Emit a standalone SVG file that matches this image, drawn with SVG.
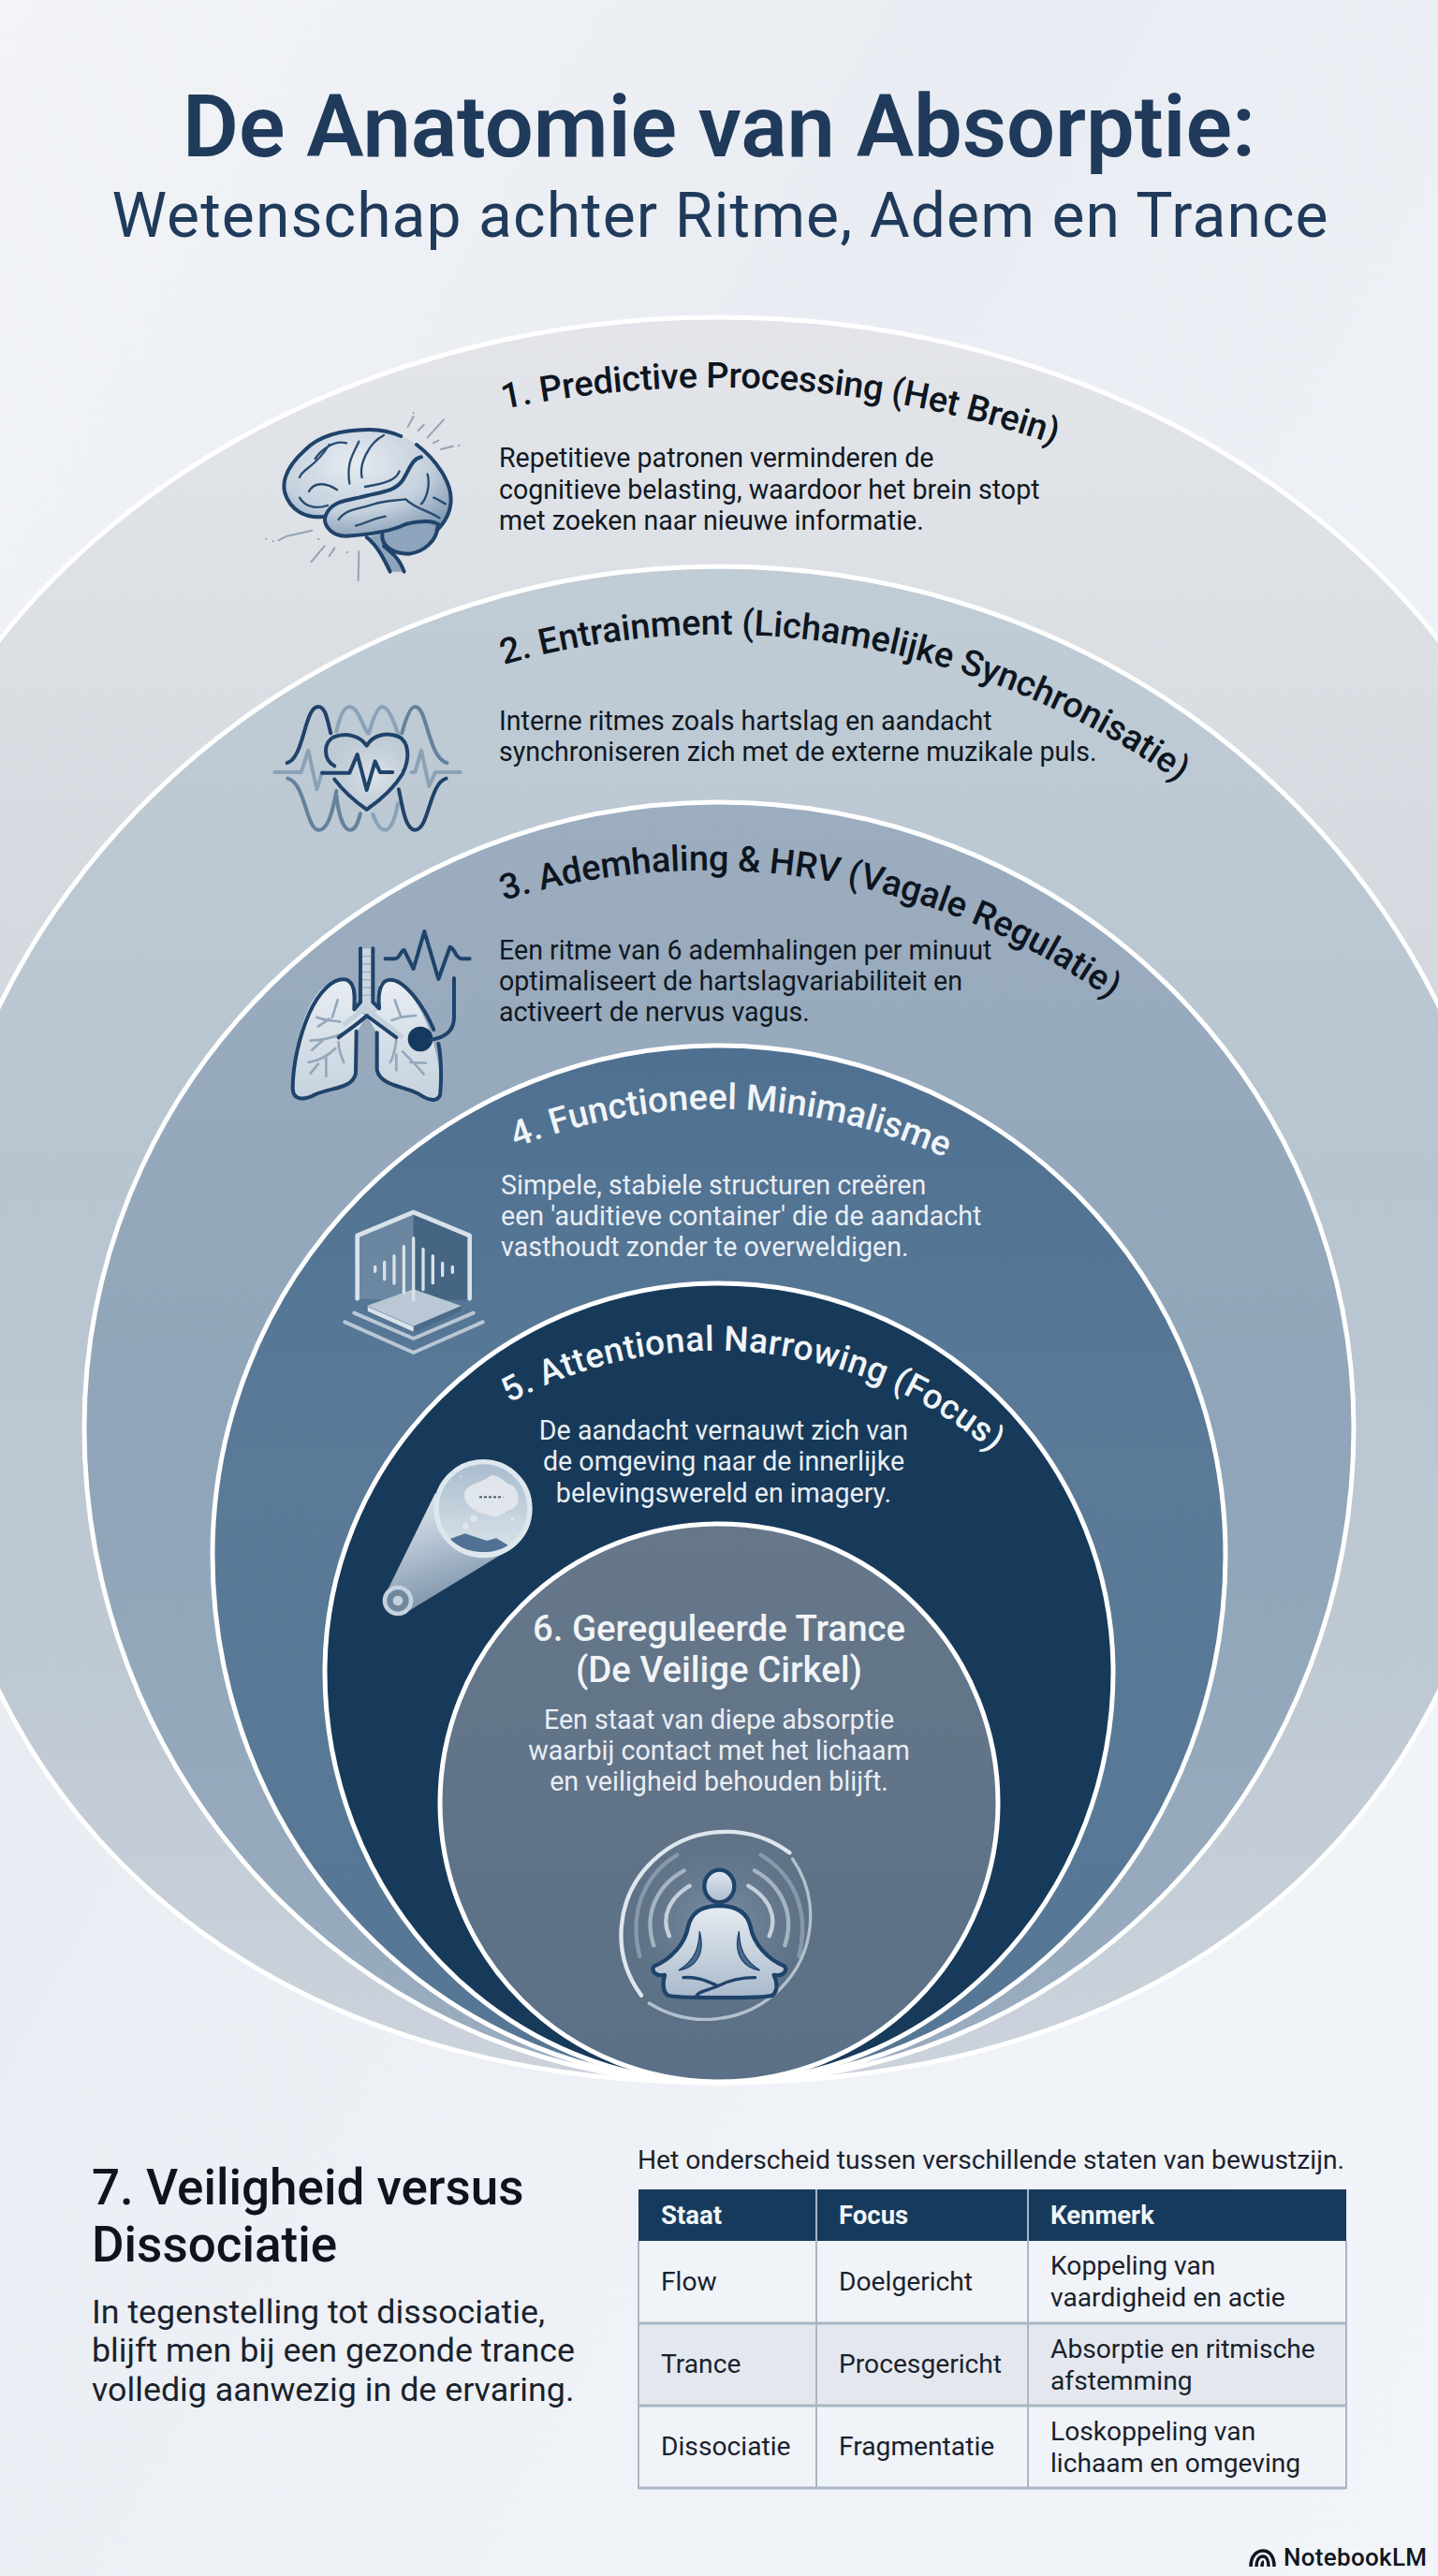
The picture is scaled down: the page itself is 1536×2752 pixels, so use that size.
<svg xmlns="http://www.w3.org/2000/svg" width="1536" height="2752" viewBox="0 0 1536 2752">
<style>
text{font-family:Roboto,"Liberation Sans",sans-serif}
.ring{stroke:#fff;stroke-width:5}
.h{font-size:38px;font-weight:500;fill:#0d1520}
.hw{font-size:38px;font-weight:500;fill:#f1f5f9}
.b{font-size:28.6px;fill:#101822}
.bw{font-size:28.6px;fill:#e9eef4}
.t{font-size:28.2px;fill:#1a222c}
.th{font-size:27.5px;font-weight:700;fill:#f2f5f8}
.ink{fill:none;stroke:#1f436a;stroke-width:12;stroke-linecap:round;stroke-linejoin:round}
.thin{fill:none;stroke:#284b70;stroke-width:7;stroke-linecap:round;stroke-linejoin:round}
.mid{fill:none;stroke:#64819e;stroke-width:12;stroke-linecap:round;stroke-linejoin:round}
.lite{fill:none;stroke:#8ba1b6;stroke-width:12;stroke-linecap:round;stroke-linejoin:round}
.spark{fill:none;stroke:#94a4b5;stroke-width:6;stroke-linecap:round}
.pale{fill:none;stroke:#d8e2eb;stroke-linecap:round;stroke-linejoin:round}
.br{fill:none;stroke:#94a8bc;stroke-width:8;stroke-linecap:round;stroke-linejoin:round}
</style>
<defs>
<linearGradient id="bg" x1="0" y1="0" x2="1" y2="1"><stop offset="0" stop-color="#f2f4f7"/><stop offset=".35" stop-color="#e9ecf2"/><stop offset=".7" stop-color="#eff2f7"/><stop offset="1" stop-color="#f1f4f9"/></linearGradient>
<linearGradient id="g1" gradientUnits="userSpaceOnUse" x1="0" y1="340" x2="0" y2="1200"><stop offset="0" stop-color="#e3e5ea"/><stop offset="1" stop-color="#d0d6dc"/></linearGradient>
<linearGradient id="g2" gradientUnits="userSpaceOnUse" x1="0" y1="605" x2="0" y2="2225"><stop offset="0" stop-color="#c0ccd6"/><stop offset=".4" stop-color="#b7c5d0"/><stop offset=".75" stop-color="#bfc9d4"/><stop offset="1" stop-color="#ccd3dc"/></linearGradient>
<linearGradient id="g3" gradientUnits="userSpaceOnUse" x1="0" y1="857" x2="0" y2="2225"><stop offset="0" stop-color="#9cadbf"/><stop offset=".5" stop-color="#90a5b9"/><stop offset="1" stop-color="#9aacbf"/></linearGradient>
<linearGradient id="g4" gradientUnits="userSpaceOnUse" x1="0" y1="1117" x2="0" y2="2225"><stop offset="0" stop-color="#4f7090"/><stop offset=".4" stop-color="#5a7a98"/><stop offset="1" stop-color="#557694"/></linearGradient>
<linearGradient id="g6" gradientUnits="userSpaceOnUse" x1="0" y1="1630" x2="0" y2="2225"><stop offset="0" stop-color="#66778a"/><stop offset="1" stop-color="#5b7086"/></linearGradient>
<radialGradient id="gb" cx=".42" cy=".32" r=".75"><stop offset="0" stop-color="#e6ebf1"/><stop offset=".6" stop-color="#c5d1de"/><stop offset="1" stop-color="#8097b2"/></radialGradient>
<radialGradient id="gh" cx=".6" cy=".55" r=".6"><stop offset="0" stop-color="#e2e8ee" stop-opacity=".9"/><stop offset="1" stop-color="#c0ccd6" stop-opacity=".15"/></radialGradient>
<linearGradient id="gl" x1="0" y1="0" x2="0" y2="1"><stop offset="0" stop-color="#e8edf2"/><stop offset="1" stop-color="#c6d2de"/></linearGradient>
<linearGradient id="gbeam" x1="0" y1="0" x2=".3" y2="1"><stop offset="0" stop-color="#e8edf2"/><stop offset=".6" stop-color="#aabacb"/><stop offset="1" stop-color="#7d93aa"/></linearGradient>
<linearGradient id="gsky" x1="0" y1="0" x2="0" y2="1"><stop offset="0" stop-color="#a9bccd"/><stop offset=".7" stop-color="#cdd8e2"/><stop offset="1" stop-color="#dde5ec"/></linearGradient>
<linearGradient id="gm" x1="0" y1="0" x2="0" y2="1"><stop offset="0" stop-color="#e6ebf1"/><stop offset="1" stop-color="#a9bacb"/></linearGradient>
<radialGradient id="gg"><stop offset="0" stop-color="#8196a9" stop-opacity=".9"/><stop offset="1" stop-color="#6c8196" stop-opacity="0"/></radialGradient>
<path id="p1" d="M538 437A1114 1114 0 0 1 1127 475"/>
<path id="p2" d="M538 710A842 842 0 0 1 1261 837"/>
<path id="p3" d="M538 962A744 744 0 0 1 1188 1069"/>
<path id="p4" d="M551 1226A588 588 0 0 1 1010 1237"/>
<path id="p5" d="M544 1499A458 458 0 0 1 1064 1555"/>
</defs>
<rect width="1536" height="2752" fill="url(#bg)"/>
<g id="title">
<text x="768" y="167" text-anchor="middle" font-size="92" font-weight="600" fill="#1f3a5a" textLength="1146">De Anatomie van Absorptie:</text>
<text x="769" y="253" text-anchor="middle" font-size="66" fill="#1f3a5a" textLength="1299">Wetenschap achter Ritme, Adem en Trance</text>
</g>
<g id="node-1">
<ellipse class="ring" cx="768" cy="1100" rx="918" ry="761" fill="url(#g1)"/>
<g transform="translate(270 420) scale(.3333)">
<path fill="url(#gb)" d="M232 395C170 405 120 375 103 320C90 270 125 220 170 180C210 140 280 118 370 117C430 115 500 140 545 180C590 215 635 285 635 340C635 385 610 420 590 440C560 445 480 440 420 450C350 458 300 462 270 455C240 440 228 420 232 395Z"/>
<path fill="#8ea3bc" d="M415 450C410 490 450 515 500 515C550 510 590 470 592 430C540 410 470 425 415 450Z"/>
<path fill="#8ea3bc" d="M365 462C400 490 420 530 440 572L485 572C470 530 445 510 420 490L415 450Z"/>
<path class="ink" d="M232 395C170 405 120 375 103 320C90 270 125 220 170 180C210 140 280 118 370 117C410 116 445 125 475 138M525 165C590 215 635 285 635 340C635 385 610 420 590 440"/>
<path class="ink" d="M415 450C410 490 450 515 500 515C550 510 590 470 592 430"/>
<path class="ink" d="M232 395C225 430 260 460 300 458C350 455 440 445 490 420C530 410 580 405 600 425"/>
<path class="ink" d="M365 462C400 490 420 530 440 572M485 572C470 530 445 510 420 490"/>
<path class="ink" d="M232 395C250 350 290 345 340 335C410 315 450 320 480 280C505 240 510 210 540 205"/>
<path class="thin" d="M275 405C300 370 340 372 390 355C420 345 450 345 490 340C520 370 570 380 598 400M330 425C360 420 370 405 425 395M150 270C160 240 200 240 245 165M300 160C260 150 220 180 200 210M340 155C320 200 300 220 310 290M180 315C200 280 240 290 270 310M470 250C460 280 420 290 360 300M350 270C340 230 370 160 420 135M560 260C570 300 555 340 540 355M580 335C595 340 605 350 618 355M150 335C170 370 210 370 240 360"/>
<path class="spark" d="M497 108L515 75M530 120L548 102M560 142L612 85M578 160L595 152M602 180L642 170M190 440L110 458M105 460L82 472M230 490L188 540M262 497L245 522M340 508L338 600"/>
<path class="spark" d="M515 63v1M660 168h1M65 475h1M42 467h1M210 468h1M302 510h1"/>
</g>
<text class="h"><textPath href="#p1" textLength="597">1. Predictive Processing (Het Brein)</textPath></text>
<text class="b"><tspan x="533" y="499">Repetitieve patronen verminderen de</tspan><tspan x="533" y="532.5">cognitieve belasting, waardoor het brein stopt</tspan><tspan x="533" y="566">met zoeken naar nieuwe informatie.</tspan></text>
</g>
<g id="node-2">
<path class="ring" fill="url(#g2)" d="M-83 1427A851 822 0 0 1 1619 1427C1619 1922 1278 2225 768 2225C258 2225 -83 1922 -83 1427Z"/>
<g transform="translate(270 730) scale(.3333)">
<path class="lite" d="M268 155C280 100 295 75 310 75C335 75 350 130 368 160M372 160C385 115 400 75 415 75C435 75 455 130 465 160"/>
<path class="mid" d="M478 160C490 115 505 75 520 75C560 75 560 235 622 255M268 360C275 420 290 470 312 470C335 470 340 430 345 418"/>
<path class="lite" d="M385 420C395 450 410 470 425 470C445 470 460 420 465 385"/>
<path class="ink" d="M110 255C165 240 165 75 210 75C235 75 240 125 250 160"/>
<path class="mid" d="M112 305C170 320 170 470 212 470C245 470 260 390 268 345"/>
<path class="ink" d="M468 340C480 400 490 470 520 470C565 470 565 320 620 305"/>
<path class="lite" d="M70 285H155L178 215L205 340L222 285M508 285H520L540 215L565 330L585 285H665"/>
<path class="ink" style="fill:url(#gh)" d="M262 265C225 245 225 190 260 172C300 155 345 170 365 200C385 165 430 155 470 172C500 190 505 240 480 290C450 340 400 380 365 405C330 380 290 345 262 308"/>
<path class="ink" d="M222 287H310L335 228L365 342L392 250L408 285H448"/>
</g>
<text class="h"><textPath href="#p2" textLength="757">2. Entrainment (Lichamelijke Synchronisatie)</textPath></text>
<text class="b"><tspan x="533" y="780">Interne ritmes zoals hartslag en aandacht</tspan><tspan x="533" y="813">synchroniseren zich met de externe muzikale puls.</tspan></text>
</g>
<g id="node-3">
<path class="ring" fill="url(#g3)" d="M90 1525A678 668 0 0 1 1446 1525A678 700 0 0 1 90 1525Z"/>
<g transform="translate(290 980) scale(.3333)">
<path fill="url(#gl)" d="M265 215C240 190 190 200 160 230C100 290 70 430 68 550C70 590 110 585 140 568C190 545 260 550 270 500L272 370L305 315L265 295Z"/>
<path fill="url(#gl)" d="M345 215C360 195 400 195 430 230C490 290 540 430 543 550C540 590 500 585 470 565C420 540 350 540 338 490L338 370L305 315L345 295Z"/>
<path fill="#c9d5e0" d="M285 100H325V280L345 295L305 310L265 295L285 280Z"/>
<path d="M287 125H323M287 150H323M287 175H323M287 200H323M287 225H323M287 250H323" stroke="#9fb0c1" stroke-width="4" fill="none"/>
<path class="br" d="M220 335C190 330 170 330 145 320M195 320L212 265M185 325L150 350M235 370C200 385 160 395 125 395M165 393L130 425M215 400C215 430 225 450 232 465M205 420C180 445 150 460 118 465M175 450V510M150 470L125 500M395 265L415 320L462 315M415 320L385 330M400 395C395 430 390 450 380 465M400 440V490M420 430C450 460 470 480 488 503M445 465L495 467"/>
<path fill="none" stroke="#c4d1dd" stroke-width="16" d="M230 345L300 290L420 385"/>
<path class="ink" d="M285 100V272L265 295M325 100V272L345 292"/>
<path class="ink" d="M265 290C268 240 265 210 240 200C200 190 150 240 120 310C90 380 68 470 68 550C70 590 110 585 140 568C190 545 260 550 270 500L272 365"/>
<path class="ink" d="M345 290C340 240 350 200 380 200C430 200 490 290 520 360M535 405C545 450 545 530 540 570C530 595 500 585 470 565C420 540 350 540 338 490L338 370"/>
<path class="ink" d="M215 385C240 365 280 340 305 315L400 385"/>
<circle cx="477" cy="390" r="40" fill="#163a5f"/>
<path class="ink" d="M510 392C560 385 585 360 585 320V195M365 133H395C410 133 415 105 425 105L455 165L490 45L535 198L572 95C585 95 590 133 610 133H635"/>
</g>
<text class="h"><textPath href="#p3" textLength="680">3. Ademhaling &amp; HRV (Vagale Regulatie)</textPath></text>
<text class="b"><tspan x="533" y="1025">Een ritme van 6 ademhalingen per minuut</tspan><tspan x="533" y="1057.5">optimaliseert de hartslagvariabiliteit en</tspan><tspan x="533" y="1091">activeert de nervus vagus.</tspan></text>
</g>
<g id="node-4">
<path class="ring" fill="url(#g4)" d="M227 1661A541 544 0 0 1 1309 1661A541 564 0 0 1 227 1661Z"/>
<g transform="translate(340 1270) scale(.3333)">
<path fill="#fff" opacity=".13" d="M125 150L305 75V360L125 352Z"/>
<path fill="#456583" d="M305 85L485 150V355L305 360Z"/>
<path class="pale" stroke-width="14" d="M125 352V150L305 75L485 150V352"/>
<path fill="#4a6a89" d="M155 375L305 440L458 375V392L305 460L155 392Z"/>
<path fill="#bac8d5" d="M155 375L305 322L458 375L305 440Z"/>
<path fill="#dbe4ec" d="M158 378L305 442V458L158 392Z"/>
<path class="pale" style="stroke:#b9c7d5" stroke-width="12" d="M115 398L305 480L497 398M85 427L305 525L527 427"/>
<path class="pale" stroke-width="10" d="M182 250V265M212 235V290M243 215V303M274 185V333M305 158V356M336 193V323M367 215V302M398 238V278M430 250V268"/>
</g>
<text class="hw"><textPath href="#p4" textLength="471">4. Functioneel Minimalisme</textPath></text>
<text class="bw"><tspan x="535" y="1276">Simpele, stabiele structuren creëren</tspan><tspan x="535" y="1309">een 'auditieve container' die de aandacht</tspan><tspan x="535" y="1342">vasthoudt zonder te overweldigen.</tspan></text>
</g>
<g id="node-5">
<path class="ring" fill="#173a5a" d="M347 1786A421 415 0 0 1 1189 1786A421 439 0 0 1 347 1786Z"/>
<g transform="translate(390 1540) scale(.3333)">
<path fill="url(#gbeam)" d="M225 165L70 480L145 540L440 360Z"/>
<circle cx="378" cy="215" r="150" fill="url(#gsky)" stroke="#dfe7ee" stroke-width="16"/>
<path fill="#4f7194" d="M272 312L320 295L390 318L420 310L458 332C420 360 330 370 272 312Z"/>
<path fill="#e1e6ec" d="M405 108C440 110 445 135 470 140C500 160 500 215 455 222C430 245 405 245 385 232C340 225 310 190 320 160C330 135 370 135 405 108Z"/>
<path stroke="#3d4a58" stroke-width="5" stroke-dasharray="9 6" d="M366 178H442" fill="none"/>
<circle cx="348" cy="247" r="11" fill="#dfe6ed"/><circle cx="322" cy="270" r="10" fill="#dfe6ed"/><circle cx="472" cy="247" r="5" fill="#e5ebf1"/><circle cx="307" cy="113" r="5" fill="#c9d5e0"/>
<circle cx="105" cy="510" r="42" fill="#6f889f" stroke="#c6d2de" stroke-width="14"/>
<circle cx="105" cy="510" r="16" fill="#c6d2de"/>
</g>
<text class="hw" style="font-size:37px"><textPath href="#p5" textLength="551">5. Attentional Narrowing (Focus)</textPath></text>
<text class="bw" text-anchor="middle"><tspan x="773" y="1538">De aandacht vernauwt zich van</tspan><tspan x="773" y="1571">de omgeving naar de innerlijke</tspan><tspan x="773" y="1605">belevingswereld en imagery.</tspan></text>
</g>
<g id="node-6">
<circle class="ring" cx="768" cy="1926" r="298" fill="url(#g6)"/>
<text x="768" y="1753" text-anchor="middle" font-size="38.4" font-weight="500" fill="#f1f4f7">6. Gereguleerde Trance</text>
<text x="768" y="1797" text-anchor="middle" font-size="38.4" font-weight="500" fill="#f1f4f7">(De Veilige Cirkel)</text>
<text class="bw" text-anchor="middle"><tspan x="768" y="1847">Een staat van diepe absorptie</tspan><tspan x="768" y="1880">waarbij contact met het lichaam</tspan><tspan x="768" y="1913">en veiligheid behouden blijft.</tspan></text>
<g transform="translate(630 1930) scale(.3333)">
<circle cx="413" cy="385" r="275" fill="url(#gg)"/>
<path fill="none" stroke="#dfe7ee" stroke-width="13" stroke-linecap="round" d="M165 605A336 330 0 0 1 640 148"/>
<path fill="none" stroke="#b3c1ce" stroke-width="10" stroke-linecap="round" d="M650 168A336 330 0 0 1 190 630"/>
<g fill="none" stroke-linecap="round" stroke-width="13">
<path stroke="#a9b8c6" opacity=".55" d="M280 155C190 210 120 320 160 480M548 155C640 210 710 320 670 480"/>
<path stroke="#c3cfda" opacity=".7" d="M302 205C220 250 170 340 205 445M528 205C610 250 660 340 625 445"/>
<path stroke="#d6dfe7" opacity=".85" d="M320 254C260 290 225 350 255 415M508 254C570 290 605 350 575 415"/>
</g>
<path fill="url(#gm)" stroke="#1f436a" stroke-width="13" stroke-linejoin="round" d="M415 318C360 318 325 340 315 385C305 440 260 490 205 512C195 530 215 545 240 540C235 560 230 590 250 605C270 615 560 615 585 605C605 590 600 560 590 540C615 545 635 530 625 512C570 490 525 440 515 385C505 340 470 318 415 318Z"/>
<ellipse cx="415" cy="255" rx="48" ry="52" fill="url(#gm)" stroke="#1f436a" stroke-width="13"/>
<path fill="#4a6b8f" stroke="#1f436a" stroke-width="4" d="M352 400C350 450 340 490 285 525C320 520 375 490 352 400ZM478 400C480 450 490 490 545 525C510 520 455 490 478 400Z"/>
<path fill="none" stroke="#1f436a" stroke-width="10" stroke-linecap="round" d="M300 548C340 545 370 555 410 575C380 590 345 590 340 612M530 548C480 548 440 560 410 575"/>
</g>
</g>
<g id="node-7">
<text x="98" y="2355" font-size="53" font-weight="500" fill="#0d141d">7. Veiligheid versus</text>
<text x="98" y="2416" font-size="53" font-weight="500" fill="#0d141d">Dissociatie</text>
<text font-size="35.8" fill="#1a222c"><tspan x="98" y="2482">In tegenstelling tot dissociatie,</tspan><tspan x="98" y="2523">blijft men bij een gezonde trance</tspan><tspan x="98" y="2565">volledig aanwezig in de ervaring.</tspan></text>
</g>
<g id="table">
<text x="681" y="2317" font-size="28.2" fill="#1a222c">Het onderscheid tussen verschillende staten van bewustzijn.</text>
<rect x="682" y="2339" width="756" height="55" fill="#163a5c"/>
<rect x="682" y="2394" width="756" height="88" fill="#f0f3f8"/>
<rect x="682" y="2482" width="756" height="88" fill="#e4e8ee"/>
<rect x="682" y="2570" width="756" height="88" fill="#f0f3f8"/>
<path fill="none" stroke="#a9b6c4" stroke-width="2" d="M682 2394V2658H1438V2394M872 2339V2658M1098 2339V2658"/>
<path fill="none" stroke="#a9b6c4" stroke-width="3" d="M682 2482H1438M682 2570H1438M682 2658H1438"/>
<text class="th" y="2376"><tspan x="706">Staat</tspan><tspan x="896">Focus</tspan><tspan x="1122">Kenmerk</tspan></text>
<text class="t" y="2447"><tspan x="706">Flow</tspan><tspan x="896">Doelgericht</tspan></text>
<text class="t" y="2535"><tspan x="706">Trance</tspan><tspan x="896">Procesgericht</tspan></text>
<text class="t" y="2623"><tspan x="706">Dissociatie</tspan><tspan x="896">Fragmentatie</tspan></text>
<text class="t"><tspan x="1122" y="2430">Koppeling van</tspan><tspan x="1122" y="2464">vaardigheid en actie</tspan><tspan x="1122" y="2519">Absorptie en ritmische</tspan><tspan x="1122" y="2553">afstemming</tspan><tspan x="1122" y="2607">Loskoppeling van</tspan><tspan x="1122" y="2641">lichaam en omgeving</tspan></text>
</g>
<g id="brand">
<path fill="none" stroke="#10161f" stroke-width="3.5" d="M1336 2742C1336 2730 1343 2725 1349 2725C1356 2725 1361 2731 1361 2742M1342 2742C1342 2735 1345 2731 1349 2731C1353 2731 1355 2736 1355 2742M1348 2742C1348 2739 1349 2737 1350 2737"/>
<text x="1371" y="2741" font-size="26" font-weight="500" fill="#10161f" textLength="153">NotebookLM</text>
</g>
</svg>
